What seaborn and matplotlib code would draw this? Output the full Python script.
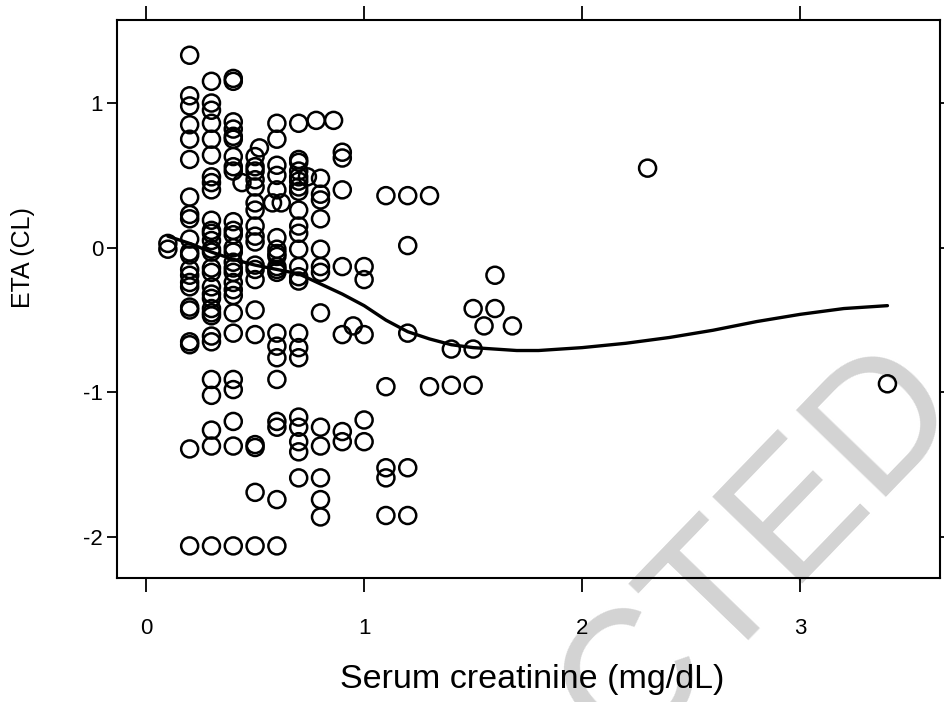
import matplotlib
matplotlib.use("Agg")
import matplotlib.pyplot as plt
import seaborn as sns
import pandas as pd

# ---- data ----
creat_groups = [0.1, 0.2, 0.3, 0.4, 0.44, 0.5, 0.52, 0.58, 0.6, 0.62, 0.7, 0.74,
                0.78, 0.8, 0.86, 0.9, 0.95, 1.0, 1.1, 1.2, 1.3, 1.4, 1.5, 1.55,
                1.6, 1.68, 2.3, 3.4]
eta_groups = [
    [0.03, -0.01],
    [1.33, 1.05, 0.98, 0.85, 0.75, 0.61, 0.35, 0.23, 0.20, 0.06, -0.03, -0.05,
     -0.15, -0.19, -0.24, -0.27, -0.41, -0.43, -0.65, -0.67, -1.39, -2.06],
    [1.15, 1.00, 0.95, 0.86, 0.75, 0.64, 0.49, 0.45, 0.40, 0.19, 0.12, 0.10,
     0.05, -0.01, -0.03, -0.14, -0.17, -0.27, -0.32, -0.35, -0.42, -0.45, -0.47,
     -0.61, -0.65, -0.91, -1.02, -1.26, -1.37, -2.06],
    [1.17, 1.15, 0.87, 0.82, 0.77, 0.75, 0.63, 0.56, 0.53, 0.18, 0.12, 0.09,
     0.00, -0.03, -0.10, -0.14, -0.17, -0.24, -0.29, -0.33, -0.45, -0.59, -0.91,
     -0.98, -1.20, -1.37, -2.06],
    [0.45],
    [0.63, 0.56, 0.53, 0.47, 0.42, 0.31, 0.26, 0.15, 0.08, 0.04, -0.12, -0.15,
     -0.22, -0.43, -0.60, -1.36, -1.38, -1.69, -2.06],
    [0.69],
    [0.31],
    [0.86, 0.75, 0.57, 0.50, 0.40, 0.07, -0.01, -0.04, -0.06, -0.13, -0.15,
     -0.17, -0.59, -0.68, -0.76, -0.91, -1.20, -1.24, -1.74, -2.06],
    [0.31],
    [0.86, 0.61, 0.59, 0.53, 0.49, 0.46, 0.42, 0.39, 0.26, 0.15, 0.10, -0.01,
     -0.13, -0.20, -0.23, -0.59, -0.69, -0.76, -1.17, -1.24, -1.34, -1.41, -1.59],
    [0.49],
    [0.88],
    [0.48, 0.37, 0.33, 0.20, -0.01, -0.13, -0.17, -0.45, -1.24, -1.37, -1.59,
     -1.74, -1.86],
    [0.88],
    [0.66, 0.62, 0.40, -0.13, -0.60, -1.27, -1.34],
    [-0.54],
    [-0.13, -0.22, -0.60, -1.19, -1.34],
    [0.36, -0.96, -1.52, -1.59, -1.85],
    [0.36, 0.015, -0.59, -1.52, -1.85],
    [0.36, -0.96],
    [-0.70, -0.95],
    [-0.42, -0.70, -0.95],
    [-0.54],
    [-0.19, -0.42],
    [-0.54],
    [0.55],
    [-0.94],
]

# smooth (loess) curve
smooth_x = [0.1, 0.2, 0.3, 0.4, 0.5, 0.6, 0.7, 0.8, 0.9, 1.0, 1.1, 1.2, 1.3,
            1.4, 1.5, 1.6, 1.7, 1.8, 1.9, 2.0, 2.2, 2.4, 2.6, 2.8, 3.0, 3.2,
            3.3, 3.4]
smooth_y = [0.08, 0.03, -0.03, -0.08, -0.12, -0.15, -0.18, -0.25, -0.32,
            -0.40, -0.50, -0.58, -0.63, -0.67, -0.69, -0.70, -0.71, -0.71,
            -0.70, -0.69, -0.66, -0.62, -0.57, -0.51, -0.46, -0.42, -0.41,
            -0.40]

x_ticks = [0, 1, 2, 3]
y_ticks = [-2, -1, 0, 1]
x_label = "Serum creatinine (mg/dL)"
y_label = "ETA (CL)"
watermark = "CTED"

rows = [(cx, e) for cx, grp in zip(creat_groups, eta_groups) for e in grp]
df = pd.DataFrame(rows, columns=["creat", "eta"])
sm = pd.DataFrame({"creat": smooth_x, "eta": smooth_y})

sns.set_theme(style="ticks")
plt.rcParams["font.family"] = ["Liberation Sans", "DejaVu Sans"]

fig = plt.figure(figsize=(9.44, 7.02), dpi=100)
fig.patch.set_facecolor("white")
ax = fig.add_axes([0.124, 0.177, 0.872, 0.795])
ax.set_facecolor("none")

sns.scatterplot(data=df, x="creat", y="eta", ax=ax, s=150, marker="o",
                facecolors="none", edgecolor="black", linewidth=1.8, zorder=3)
sns.lineplot(data=sm, x="creat", y="eta", ax=ax, color="black", lw=2.4,
             estimator=None, sort=True, zorder=4)

ax.set_xlim(-0.133, 3.642)
ax.set_ylim(-2.28, 1.576)
ax.set_xticks(x_ticks)
ax.set_yticks(y_ticks)
ax.set_xticklabels([str(v) for v in x_ticks])
ax.set_yticklabels([str(v) for v in y_ticks])
ax.tick_params(axis="both", which="both", direction="out", width=1.3,
               color="black", labelsize=16, labelcolor="black",
               top=True, right=True, labeltop=False, labelright=False)
ax.tick_params(axis="x", length=10, pad=19)
ax.tick_params(axis="y", length=7, pad=3)
for sp in ax.spines.values():
    sp.set_visible(True)
    sp.set_linewidth(1.5)
    sp.set_color("black")
ax.set_xlabel(x_label, fontsize=24.5, color="black")
ax.set_ylabel(y_label, fontsize=18, color="black")
ax.xaxis.set_label_coords(0.504, -0.155)
ax.yaxis.set_label_coords(-0.100, 0.573)

fig.text(760 / 944, 1 - 550 / 702, watermark, fontsize=130, color="#d3d3d3",
         rotation=46, rotation_mode="anchor", ha="center", va="center",
         zorder=-5, family=["Liberation Sans", "DejaVu Sans"])

fig.savefig("out.png", dpi=100)
